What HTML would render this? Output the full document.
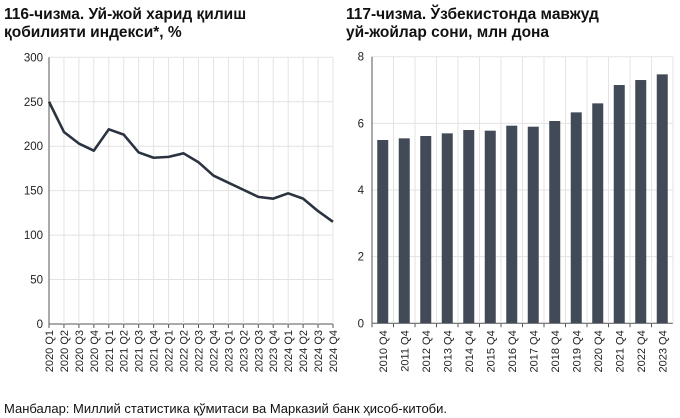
<!DOCTYPE html>
<html><head><meta charset="utf-8"><style>
body{margin:0;width:680px;height:418px;background:#fff;font-family:"Liberation Sans",sans-serif;overflow:hidden;position:relative}
.t{position:absolute;font-weight:bold;font-size:15.5px;line-height:18px;color:#111}
.f{position:absolute;left:4px;top:401px;font-size:13px;color:#111}
</style></head><body>
<div class="t" style="left:4px;top:6px">116-чизма. Уй-жой харид қилиш<br>қобилияти индекси*, %</div>
<div class="t" style="left:346px;top:6px">117-чизма. Ўзбекистонда мавжуд<br>уй-жойлар сони, млн дона</div>
<svg width="680" height="418" style="position:absolute;left:0;top:0">
<g id="L"></g><g id="R"></g></svg>
<div class="f">Манбалар: Миллий статистика қўмитаси ва Марказий банк ҳисоб-китоби.</div>
<script>
const lineCats=["2020 Q1","2020 Q2","2020 Q3","2020 Q4","2021 Q1","2021 Q2","2021 Q3","2021 Q4","2022 Q1","2022 Q2","2022 Q3","2022 Q4","2023 Q1","2023 Q2","2023 Q3","2023 Q4","2024 Q1","2024 Q2","2024 Q3","2024 Q4"];
const lineVals=[250,216,203,195,219,213,193,187,188,192,182,167,159,151,143,141,147,141,127,115];
const lineTicks=[0,50,100,150,200,250,300];
const barCats=["2010 Q4","2011 Q4","2012 Q4","2013 Q4","2014 Q4","2015 Q4","2016 Q4","2017 Q4","2018 Q4","2019 Q4","2020 Q4","2021 Q4","2022 Q4","2023 Q4"];
const barVals=[5.5,5.55,5.62,5.7,5.8,5.78,5.93,5.9,6.07,6.33,6.6,7.15,7.3,7.47];
const barTicks=[0,2,4,6,8];
const NS="http://www.w3.org/2000/svg";
function mk(p,tag,a){const e=document.createElementNS(NS,tag);for(const k in a)e.setAttribute(k,a[k]);p.appendChild(e);return e;}
const L=document.getElementById('L');
const lx0=49,lx1=333,ly0=324,ly1=57.3;
const lxs=i=>lx0+i*(lx1-lx0)/(lineCats.length-1);
const lys=v=>ly0-(v/300)*(ly0-ly1);
lineTicks.forEach(t=>{
 const g=mk(L,'line',{x1:lx0,x2:lx1,y1:lys(t),y2:lys(t),stroke:t?'#e3e3e3':'#555','stroke-width':1});
 
 
 const tx=mk(L,'text',{x:lx0-6,y:lys(t)+4,'text-anchor':'end','font-size':11.5,fill:'#222'});
 tx.textContent=t;
 
 
});
lineCats.forEach((c,i)=>{
 const x=lxs(i);
 if(i>0){const v=mk(L,'line',{x1:x,x2:x,y1:ly1,y2:ly0,stroke:'#e3e3e3'});
 
 }
 const tk=mk(L,'line',{x1:x,x2:x,y1:ly0,y2:ly0+4,stroke:'#555'});
 
 
 const tx=mk(L,'text',{transform:`translate(${x+4},${ly0+6}) rotate(-90)`,'text-anchor':'end','font-size':11,fill:'#222'});
 tx.textContent=c;
 
 
});
const ya=mk(L,'line',{x1:lx0,x2:lx0,y1:ly1,y2:ly0,stroke:'#555'});


const pl=mk(L,'polyline',{points:lineVals.map((v,i)=>lxs(i)+','+lys(v)).join(' '),fill:'none',stroke:'#2b3340','stroke-width':2.6,'stroke-linejoin':'round'});


const R=document.getElementById('R');
const rx0=372,rx1=673,ry0=323.3,ry1=56.7;
const bw=(rx1-rx0)/barCats.length;
const rys=v=>ry0-(v/8)*(ry0-ry1);
barTicks.forEach(t=>{
 const g=mk(R,'line',{x1:rx0,x2:rx1,y1:rys(t),y2:rys(t),stroke:t?'#e3e3e3':'#555'});
 
 
 const tx=mk(R,'text',{x:rx0-8,y:rys(t)+4,'text-anchor':'end','font-size':11.5,fill:'#222'});
 tx.textContent=t;
 
 
});
barCats.forEach((c,i)=>{
 const x=rx0+i*bw;
 const v=mk(R,'line',{x1:x+bw,x2:x+bw,y1:ry1,y2:ry0,stroke:'#e3e3e3'});
 
 
 const tk=mk(R,'line',{x1:x,x2:x,y1:ry0,y2:ry0+4,stroke:'#555'});
 
 
 const b=mk(R,'rect',{x:x+bw/2-5.5,y:rys(barVals[i]),width:11,height:ry0-rys(barVals[i]),fill:'#414a56'});
 
 
 const tx=mk(R,'text',{transform:`translate(${x+bw/2+4},${ry0+7}) rotate(-90)`,'text-anchor':'end','font-size':11,fill:'#222'});
 tx.textContent=c;
 
 
});
const ry=mk(R,'line',{x1:rx0,x2:rx0,y1:ry1,y2:ry0,stroke:'#555'});


</script>
</body></html>
